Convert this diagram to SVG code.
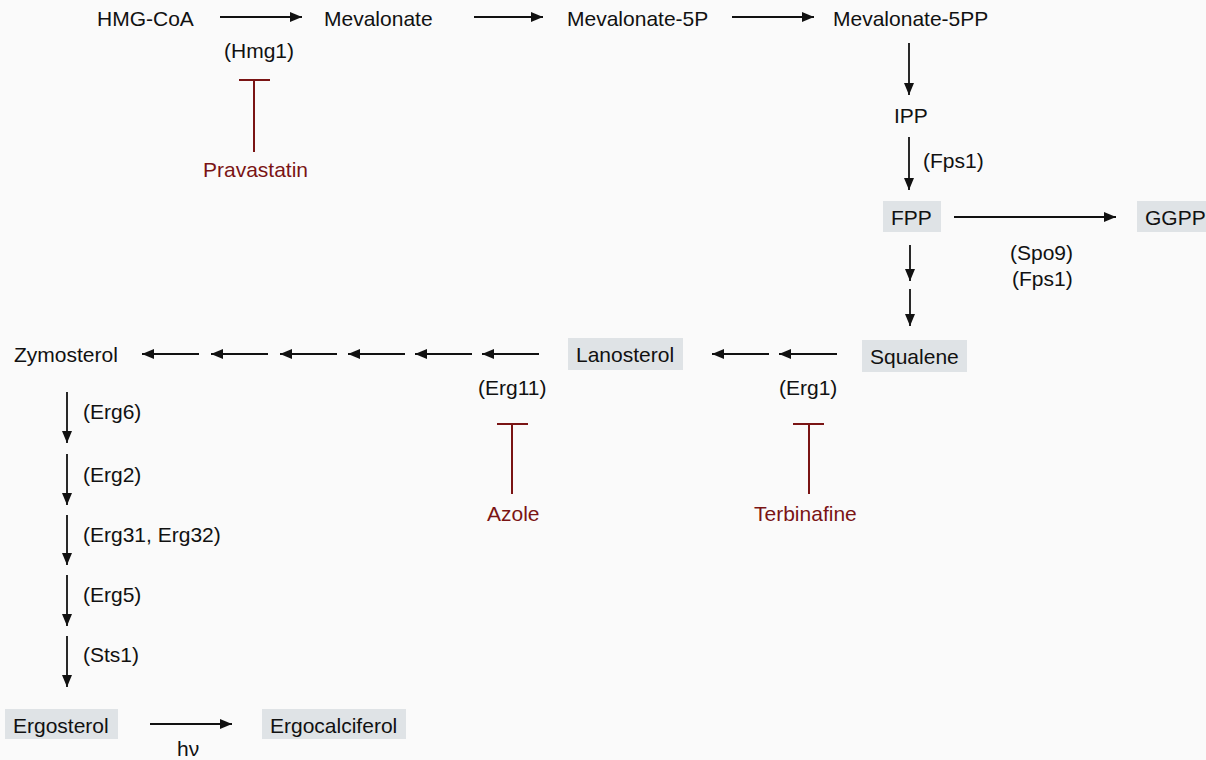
<svg xmlns="http://www.w3.org/2000/svg" width="1206" height="760" viewBox="0 0 1206 760">
<defs>
<marker id="ah" viewBox="0 0 12 10" refX="12" refY="5" markerWidth="12" markerHeight="10" markerUnits="userSpaceOnUse" orient="auto">
<path d="M0,0 L12,5 L0,10 Z" fill="#111"/>
</marker>
<style>
text{font-family:"Liberation Sans",Arial,sans-serif;font-size:21px;fill:#111}
.inh text{fill:#7a1414}
.box{fill:#dfe3e6}
.c line{stroke:#111;stroke-width:1.8;marker-end:url(#ah)}
.inh line{stroke:#7a1414;stroke-width:2}
</style>
</defs>
<rect width="1206" height="760" fill="#fafafa"/>
<g id="hmgcoa"><text x="97" y="26">HMG-CoA</text></g>
<g id="mevalonate"><text x="324" y="26">Mevalonate</text></g>
<g id="mevalonate5p"><text x="567" y="26">Mevalonate-5P</text></g>
<g id="mevalonate5pp"><text x="833" y="26">Mevalonate-5PP</text></g>
<g id="ipp"><text x="894" y="123">IPP</text></g>
<g id="fpp"><rect class="box" x="883" y="201" width="58" height="31"/><text x="891" y="225">FPP</text></g>
<g id="ggpp"><rect class="box" x="1137" y="201" width="78" height="31"/><text x="1145" y="225">GGPP</text></g>
<g id="squalene"><rect class="box" x="862" y="340" width="105" height="32"/><text x="870" y="364">Squalene</text></g>
<g id="lanosterol"><rect class="box" x="568" y="338" width="115" height="32"/><text x="576" y="362">Lanosterol</text></g>
<g id="zymosterol"><text x="14" y="362">Zymosterol</text></g>
<g id="ergosterol"><rect class="box" x="5" y="709" width="113" height="30"/><text x="13" y="733">Ergosterol</text></g>
<g id="ergocalciferol"><rect class="box" x="262" y="709" width="144" height="30"/><text x="270" y="733">Ergocalciferol</text></g>
<g id="labels">
<text x="224" y="58">(Hmg1)</text>
<text x="923" y="168">(Fps1)</text>
<text x="1010" y="260">(Spo9)</text>
<text x="1012" y="286">(Fps1)</text>
<text x="478" y="395">(Erg11)</text>
<text x="779" y="395">(Erg1)</text>
<text x="83" y="419">(Erg6)</text>
<text x="83" y="482">(Erg2)</text>
<text x="83" y="542">(Erg31, Erg32)</text>
<text x="83" y="602">(Erg5)</text>
<text x="83" y="662">(Sts1)</text>
<text x="177" y="756">hν</text>
</g>
<g id="connectors" class="c">
<line x1="220" y1="17" x2="302" y2="17"/>
<line x1="474" y1="17" x2="543" y2="17"/>
<line x1="732" y1="17" x2="814" y2="17"/>
<line x1="909" y1="43" x2="909" y2="95"/>
<line x1="909" y1="137" x2="909" y2="190"/>
<line x1="954" y1="217" x2="1116" y2="217"/>
<line x1="910" y1="245" x2="910" y2="281"/>
<line x1="910" y1="289" x2="910" y2="326"/>
<line x1="837" y1="354" x2="779" y2="354"/>
<line x1="769" y1="354" x2="712" y2="354"/>
<line x1="539" y1="354" x2="482" y2="354"/>
<line x1="472" y1="354" x2="415" y2="354"/>
<line x1="405" y1="354" x2="348" y2="354"/>
<line x1="337" y1="354" x2="280" y2="354"/>
<line x1="268" y1="354" x2="211" y2="354"/>
<line x1="199" y1="354" x2="142" y2="354"/>
<line x1="67" y1="392" x2="67" y2="443"/>
<line x1="67" y1="454" x2="67" y2="505"/>
<line x1="67" y1="515" x2="67" y2="565"/>
<line x1="67" y1="575" x2="67" y2="626"/>
<line x1="67" y1="636" x2="67" y2="687"/>
<line x1="150" y1="724" x2="232" y2="724"/>
</g>
<g id="pravastatin" class="inh">
<line x1="239" y1="80" x2="270" y2="80"/><line x1="254" y1="80" x2="254" y2="152"/>
<text x="203" y="177">Pravastatin</text>
</g>
<g id="azole" class="inh">
<line x1="497" y1="424" x2="528" y2="424"/><line x1="512" y1="424" x2="512" y2="494"/>
<text x="487" y="521">Azole</text>
</g>
<g id="terbinafine" class="inh">
<line x1="793" y1="424" x2="824" y2="424"/><line x1="809" y1="424" x2="809" y2="494"/>
<text x="754" y="521">Terbinafine</text>
</g>
</svg>
